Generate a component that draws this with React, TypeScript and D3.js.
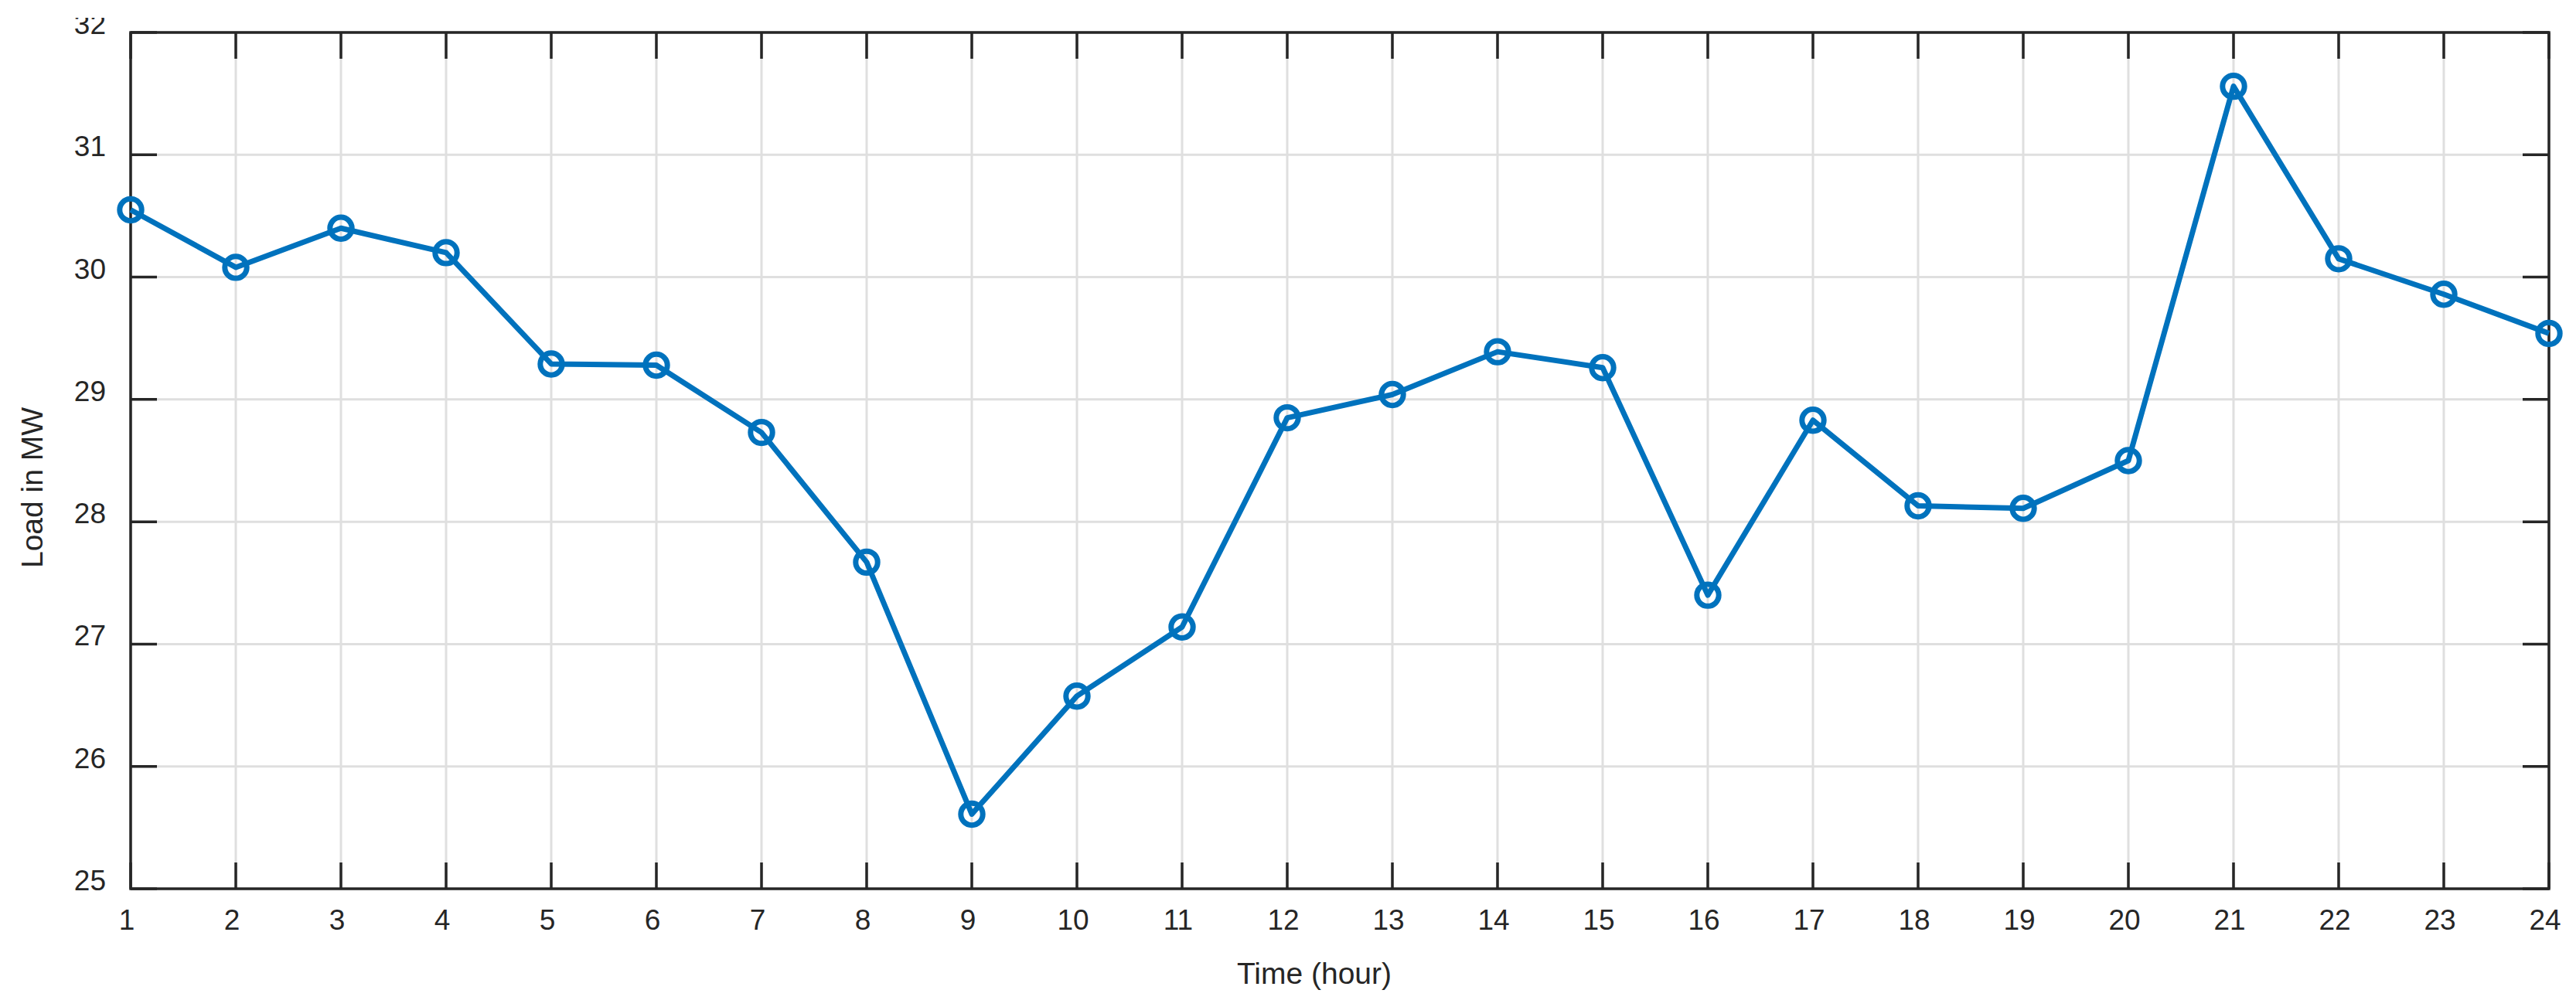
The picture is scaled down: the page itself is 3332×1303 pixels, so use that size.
import React from "react";
import * as d3 from "d3";

const hours: number[] = [1, 2, 3, 4, 5, 6, 7, 8, 9, 10, 11, 12, 13, 14, 15, 16, 17, 18, 19, 20, 21, 22, 23, 24];
const loadMW: number[] = [
  30.55, 30.08, 30.4, 30.2, 29.29, 29.28, 28.73, 27.67, 25.61, 26.575, 27.14, 28.85,
  29.04, 29.39, 29.26, 27.4, 28.83, 28.13, 28.11, 28.5, 31.56, 30.15, 29.86, 29.54,
];
const yTicks: number[] = [25, 26, 27, 28, 29, 30, 31, 32];
const xTitle = "Time (hour)";
const yTitle = "Load in MW";

const W = 3332;
const H = 1303;
const L = 169;
const R = 3297;
const T = 42;
const B = 1150;
const AX = "#262626";
const GRID = "#dfdfdf";
const BLUE = "#0072BD";
const FONT = "'Liberation Sans', Arial, Helvetica, sans-serif";
const TICK = 34;

export default function App() {
  const x = d3.scaleLinear().domain([1, 24]).range([L, R]);
  const y = d3.scaleLinear().domain([25, 32]).range([B, T]);
  const line = d3
    .line<number>()
    .x((_, i) => x(hours[i]))
    .y((d) => y(d));
  const pathD = line(loadMW) || "";

  return (
    <svg
      width={W}
      height={H}
      style={{ position: "absolute", left: 0, top: 0, display: "block", background: "#fff" }}
    >
      <defs>
        <clipPath id="pageclip">
          <rect x={0} y={23} width={W} height={H - 23} />
        </clipPath>
      </defs>
      <rect x={0} y={0} width={W} height={H} fill="#fff" />
      {/* grid */}
      {hours.map((h) => (
        <line key={"gx" + h} x1={x(h)} x2={x(h)} y1={T} y2={B} stroke={GRID} strokeWidth={3} />
      ))}
      {yTicks.map((v) => (
        <line key={"gy" + v} x1={L} x2={R} y1={y(v)} y2={y(v)} stroke={GRID} strokeWidth={3} />
      ))}
      {/* ticks */}
      {hours.map((h) => (
        <g key={"tx" + h}>
          <line x1={x(h)} x2={x(h)} y1={B} y2={B - TICK} stroke={AX} strokeWidth={3.5} />
          <line x1={x(h)} x2={x(h)} y1={T} y2={T + TICK} stroke={AX} strokeWidth={3.5} />
        </g>
      ))}
      {yTicks.map((v) => (
        <g key={"ty" + v}>
          <line x1={L} x2={L + TICK} y1={y(v)} y2={y(v)} stroke={AX} strokeWidth={3.5} />
          <line x1={R} x2={R - TICK} y1={y(v)} y2={y(v)} stroke={AX} strokeWidth={3.5} />
        </g>
      ))}
      {/* box */}
      <rect x={L} y={T} width={R - L} height={B - T} fill="none" stroke={AX} strokeWidth={3.5} />
      {/* tick labels */}
      <g clipPath="url(#pageclip)" fill={AX} fontFamily={FONT} fontSize={37}>
        {yTicks.map((v) => (
          <text key={"ly" + v} x={137} y={y(v) + 2} textAnchor="end">
            {v}
          </text>
        ))}
        {hours.map((h) => (
          <text key={"lx" + h} x={x(h) - 5} y={1203} textAnchor="middle">
            {h}
          </text>
        ))}
      </g>
      {/* axis titles */}
      <text x={1700} y={1273} textAnchor="middle" fontFamily={FONT} fontSize={39} fill={AX}>
        {xTitle}
      </text>
      <text
        transform={`translate(55,631) rotate(-90)`}
        textAnchor="middle"
        fontFamily={FONT}
        fontSize={39}
        fill={AX}
      >
        {yTitle}
      </text>
      {/* data */}
      <path d={pathD} fill="none" stroke={BLUE} strokeWidth={7} strokeLinejoin="round" />
      {loadMW.map((v, i) => (
        <circle key={"m" + i} cx={x(hours[i])} cy={y(v)} r={14.2} fill="none" stroke={BLUE} strokeWidth={7} />
      ))}
    </svg>
  );
}
